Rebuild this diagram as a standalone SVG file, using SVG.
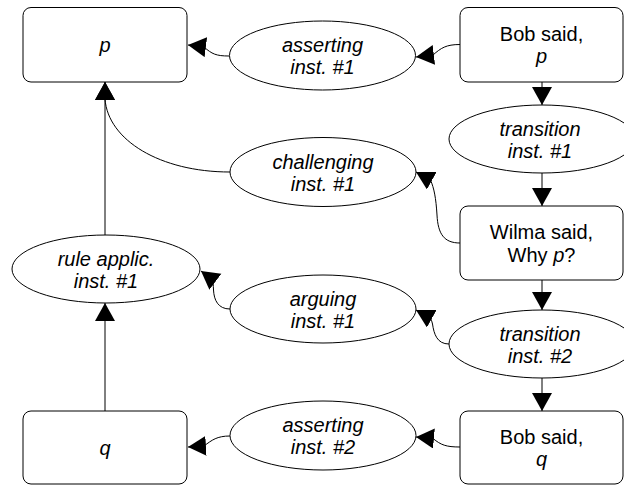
<svg xmlns="http://www.w3.org/2000/svg" width="624" height="485" viewBox="0 0 624 485">
<style>
.box{fill:#fff;stroke:#000;stroke-width:1}
.ell{fill:#fff;stroke:#000;stroke-width:1}
.lbl{font-family:"Liberation Sans",Arial,sans-serif;font-size:20px;fill:#000;text-anchor:middle}
.it{font-style:italic}
.conn{fill:none;stroke:#000;stroke-width:1;marker-end:url(#arr)}
</style>
<defs>
<marker id="arr" markerUnits="userSpaceOnUse" markerWidth="19" markerHeight="21" refX="18" refY="10" orient="auto" viewBox="0 0 19 21">
<path d="M0,0 L18,10 L0,20 z" fill="#000"/>
</marker>
</defs>
<rect width="624" height="485" fill="#fff"/>
<g id="connectors">
<path class="conn" d="M460,44.5 C446,44.5 441,48 433,55 L416,57"/>
<path class="conn" d="M229,56 C216,56 212,54 204,47 L188,45"/>
<path class="conn" d="M542,82 L542,105"/>
<path class="conn" d="M542,173 L542,206"/>
<path class="conn" d="M460,243 C444,243 438,234 437,215 C436,198 434,188 430.5,180 L416,172"/>
<path class="conn" d="M230,172 C160,172 108,140 105,99 L105,82"/>
<path class="conn" d="M105,235 L105,82"/>
<path class="conn" d="M105,411 L105,303"/>
<path class="conn" d="M230,309 C218,309 214,300 213.5,290 C213.3,285 213,282 213,280 L201,271"/>
<path class="conn" d="M542,280 L542,310"/>
<path class="conn" d="M449,344 C437,344 434,334 432.5,324 C431.8,321 431,319 430.5,318 L416,310"/>
<path class="conn" d="M542,378 L542,411"/>
<path class="conn" d="M460,447 C446,447 441,445 433,438.5 L416,437"/>
<path class="conn" d="M230,436 C217,436 212,440 204,446 L188,447"/>
</g>
<g id="node-p">
<rect class="box" x="23" y="7.5" width="164" height="74.5" rx="8"/>
<text class="lbl it" x="105" y="52">p</text>
</g>
<g id="node-asserting1">
<ellipse class="ell" cx="322.5" cy="55.5" rx="93" ry="34.5"/>
<text class="lbl it" x="322.5" y="51.5">asserting</text>
<text class="lbl it" x="322.5" y="74">inst. #1</text>
</g>
<g id="node-bob-p">
<rect class="box" x="460" y="7.5" width="163" height="74.5" rx="8"/>
<text class="lbl" x="541.5" y="41">Bob said,</text>
<text class="lbl it" x="541.5" y="63">p</text>
</g>
<g id="node-transition1">
<ellipse class="ell" cx="542" cy="139" rx="93" ry="34"/>
<text class="lbl it" x="540" y="135.5">transition</text>
<text class="lbl it" x="540" y="157.5">inst. #1</text>
</g>
<g id="node-challenging1">
<ellipse class="ell" cx="323" cy="172" rx="93" ry="34.5"/>
<text class="lbl it" x="323" y="168.5">challenging</text>
<text class="lbl it" x="323" y="190.5">inst. #1</text>
</g>
<g id="node-wilma">
<rect class="box" x="460" y="206" width="163" height="74" rx="8"/>
<text class="lbl" x="541.5" y="239">Wilma said,</text>
<text class="lbl" x="541.5" y="262">Why <tspan class="it">p</tspan>?</text>
</g>
<g id="node-rule-applic1">
<ellipse class="ell" cx="106" cy="269" rx="94" ry="34"/>
<text class="lbl it" x="106" y="265.5">rule applic.</text>
<text class="lbl it" x="106" y="287.5">inst. #1</text>
</g>
<g id="node-arguing1">
<ellipse class="ell" cx="323" cy="309" rx="93" ry="34"/>
<text class="lbl it" x="323" y="305.5">arguing</text>
<text class="lbl it" x="323" y="327.5">inst. #1</text>
</g>
<g id="node-transition2">
<ellipse class="ell" cx="542" cy="344" rx="93" ry="34"/>
<text class="lbl it" x="540" y="340.5">transition</text>
<text class="lbl it" x="540" y="362.5">inst. #2</text>
</g>
<g id="node-q">
<rect class="box" x="23" y="411" width="164" height="73" rx="8"/>
<text class="lbl it" x="105" y="454.5">q</text>
</g>
<g id="node-asserting2">
<ellipse class="ell" cx="323" cy="435.5" rx="93" ry="34.5"/>
<text class="lbl it" x="323" y="432">asserting</text>
<text class="lbl it" x="323" y="454">inst. #2</text>
</g>
<g id="node-bob-q">
<rect class="box" x="460" y="411" width="163" height="73" rx="8"/>
<text class="lbl" x="541.5" y="444">Bob said,</text>
<text class="lbl it" x="541.5" y="466">q</text>
</g>
</svg>
